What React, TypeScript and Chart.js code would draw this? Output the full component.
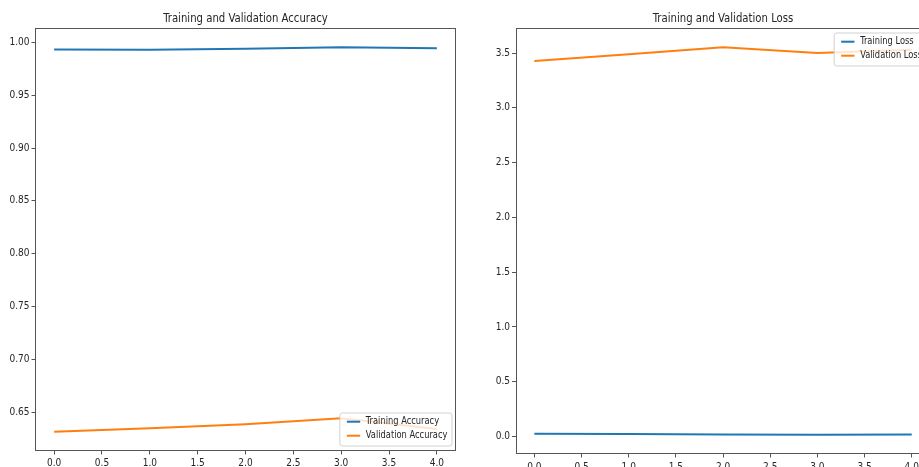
import React, { useEffect, useRef } from "react";
import { Chart, registerables } from "chart.js";
Chart.register(...registerables);

const epochs = [0, 1, 2, 3, 4];
const trainAcc = [0.9934, 0.9931, 0.994, 0.9955, 0.9946];
const valAcc = [0.6314, 0.6348, 0.6386, 0.6443, 0.634];
const trainLoss = [0.026, 0.022, 0.018, 0.017, 0.018];
const valLoss = [3.427, 3.49, 3.552, 3.5, 3.53];
const xTicks = [0, 0.5, 1, 1.5, 2, 2.5, 3, 3.5, 4];
const accTicks = [0.65, 0.7, 0.75, 0.8, 0.85, 0.9, 0.95, 1.0];
const lossTicks = [0, 0.5, 1, 1.5, 2, 2.5, 3, 3.5];
const accTitle = "Training and Validation Accuracy";
const lossTitle = "Training and Validation Loss";
const accLabels = ["Training Accuracy", "Validation Accuracy"];
const lossLabels = ["Training Loss", "Validation Loss"];

const BLUE = "#1f77b4";
const ORANGE = "#ff7f0e";
const FONT = "'DejaVu Sans Condensed', 'Liberation Sans Narrow', 'Liberation Sans', sans-serif";
const TEXT = "#262626";
const SPINE = "#555";

function scaledText(ctx: any, text: string, x: number, y: number, sx: number, align: string) {
  ctx.save();
  ctx.translate(x, y);
  ctx.scale(sx, 1);
  ctx.textAlign = align;
  ctx.textBaseline = "middle";
  ctx.fillText(text, 0, 0);
  ctx.restore();
}

const mplPlugin = {
  id: "mpl",
  afterDraw(chart: any, _args: any, opts: any) {
    const ctx = chart.ctx;
    const a = chart.chartArea;
    ctx.save();
    // frame
    ctx.strokeStyle = SPINE;
    ctx.lineWidth = 1;
    const l = Math.round(a.left) + 0.5;
    const t = Math.round(a.top) + 0.5;
    const r = Math.round(a.right) - 0.5;
    const b = Math.round(a.bottom) - 0.5;
    ctx.strokeRect(l, t, r - l, b - t);
    // title
    ctx.fillStyle = TEXT;
    ctx.font = `12.5px ${FONT}`;
    scaledText(ctx, opts.title, (a.left + a.right) / 2, 18.5, 0.9, "center");
    // legend
    const sx = 0.88;
    ctx.font = `10.5px ${FONT}`;
    const tw = sx * Math.max(...opts.items.map((it: any) => ctx.measureText(it.label).width));
    const w = 7 + 13.3 + 5.7 + tw + 4.6;
    const h = 33;
    const x = a.right - 4 - w;
    const y = opts.loc === "lower right" ? a.bottom - 5 - h : a.top + 5;
    ctx.fillStyle = "rgba(255,255,255,0.8)";
    ctx.strokeStyle = "rgba(204,204,204,0.9)";
    ctx.lineWidth = 1;
    ctx.beginPath();
    const rr = 2.5;
    ctx.moveTo(x + rr, y);
    ctx.lineTo(x + w - rr, y);
    ctx.arcTo(x + w, y, x + w, y + rr, rr);
    ctx.lineTo(x + w, y + h - rr);
    ctx.arcTo(x + w, y + h, x + w - rr, y + h, rr);
    ctx.lineTo(x + rr, y + h);
    ctx.arcTo(x, y + h, x, y + h - rr, rr);
    ctx.lineTo(x, y + rr);
    ctx.arcTo(x, y, x + rr, y, rr);
    ctx.closePath();
    ctx.fill();
    ctx.stroke();
    opts.items.forEach((it: any, i: number) => {
      const cy = y + 8.7 + i * 14;
      ctx.strokeStyle = it.color;
      ctx.lineWidth = 2;
      ctx.beginPath();
      ctx.moveTo(x + 7, cy);
      ctx.lineTo(x + 20.3, cy);
      ctx.stroke();
      ctx.fillStyle = TEXT;
      scaledText(ctx, it.label, x + 26, cy, sx, "left");
    });
    ctx.restore();
  },
};

function range(vals: number[]) {
  const lo = Math.min(...vals);
  const hi = Math.max(...vals);
  const pad = 0.05 * (hi - lo);
  return [lo - pad, hi + pad];
}

function makeConfig(
  series: number[][],
  labels: string[],
  yTicks: number[],
  decimals: number,
  title: string,
  loc: string,
  yWidth: number,
  xHeight: number,
  padRight: number,
  xPad: number
): any {
  const [ymin, ymax] = range([...series[0], ...series[1]]);
  const colors = [BLUE, ORANGE];
  return {
    type: "line",
    data: {
      datasets: series.map((s, i) => ({
        label: labels[i],
        data: epochs.map((e, j) => ({ x: e, y: s[j] })),
        borderColor: colors[i],
        borderWidth: 2,
        pointRadius: 0,
        tension: 0,
        fill: false,
      })),
    },
    options: {
      responsive: false,
      animation: false,
      devicePixelRatio: 1,
      layout: { padding: { top: 28, right: padRight, left: 0, bottom: 0 } },
      plugins: {
        legend: { display: false },
        title: { display: false },
        tooltip: { enabled: false },
        mpl: {
          title,
          loc,
          items: labels.map((l, i) => ({ label: l, color: colors[i] })),
        },
      },
      scales: {
        x: {
          type: "linear",
          min: -0.2,
          max: 4.2,
          border: { display: false },
          grid: { drawOnChartArea: false, drawTicks: true, tickLength: 3.5, color: SPINE },
          afterBuildTicks: (ax: any) => {
            ax.ticks = xTicks.map((v) => ({ value: v }));
          },
          afterFit: (ax: any) => {
            ax.height = xHeight;
          },
          ticks: {
            padding: xPad,
            maxRotation: 0,
            autoSkip: false,
            color: TEXT,
            font: { family: FONT, size: 10 },
            callback: (v: number) => v.toFixed(1),
          },
        },
        y: {
          type: "linear",
          min: ymin,
          max: ymax,
          border: { display: false },
          grid: { drawOnChartArea: false, drawTicks: true, tickLength: 3.5, color: SPINE },
          afterBuildTicks: (ax: any) => {
            ax.ticks = yTicks.map((v) => ({ value: v }));
          },
          afterFit: (ax: any) => {
            ax.width = yWidth;
          },
          ticks: {
            padding: 2,
            autoSkip: false,
            color: TEXT,
            font: { family: FONT, size: 10 },
            callback: (v: number) => v.toFixed(decimals),
          },
        },
      },
    },
    plugins: [mplPlugin],
  };
}

export default function App() {
  const leftRef = useRef<HTMLCanvasElement>(null);
  const rightRef = useRef<HTMLCanvasElement>(null);

  useEffect(() => {
    const c1 = new Chart(
      leftRef.current!,
      makeConfig([trainAcc, valAcc], accLabels, accTicks, 2, accTitle, "lower right", 35, 16, 9, 2.5)
    );
    const c2 = new Chart(
      rightRef.current!,
      makeConfig([trainLoss, valLoss], lossLabels, lossTicks, 1, lossTitle, "upper right", 45.5, 13, 9.4, 3.5)
    );
    return () => {
      c1.destroy();
      c2.destroy();
    };
  }, []);

  return (
    <div
      style={{
        position: "absolute",
        left: 0,
        top: 0,
        width: 919,
        height: 467,
        overflow: "hidden",
        background: "#fff",
      }}
    >
      <canvas
        ref={leftRef}
        width={465}
        height={467}
        style={{ position: "absolute", left: 0, top: 0, width: 465, height: 467 }}
      />
      <canvas
        ref={rightRef}
        width={470}
        height={467}
        style={{ position: "absolute", left: 470, top: 0, width: 470, height: 467 }}
      />
    </div>
  );
}
